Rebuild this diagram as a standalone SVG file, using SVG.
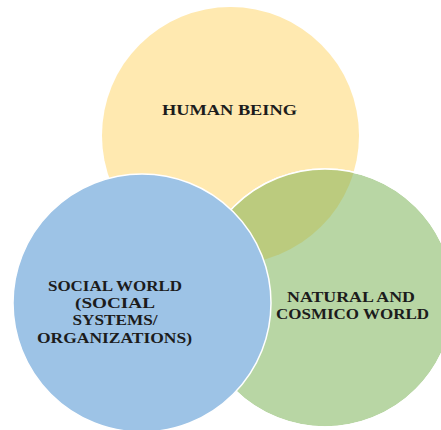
<svg xmlns="http://www.w3.org/2000/svg" width="441" height="430" viewBox="0 0 441 430">
<style>
.lbl{font-family:"Liberation Serif","Times New Roman",serif;font-weight:bold;font-size:15px;fill:#1c1c1c;text-anchor:middle}
</style>
<defs>
<clipPath id="greenClip"><circle cx="325" cy="298" r="129"/></clipPath>
</defs>
<rect width="441" height="430" fill="#ffffff"/>
<g id="human-being">
<circle cx="230.5" cy="135.5" r="128.5" fill="#FFE9B0"/>
</g>
<g id="natural-world">
<circle cx="325" cy="298" r="129" fill="#B8D6A4" stroke="#ffffff" stroke-width="1.5"/>
<circle cx="230.5" cy="135.5" r="128.5" fill="#BBCB7E" clip-path="url(#greenClip)"/>
<circle cx="325" cy="298" r="129" fill="none" stroke="#ffffff" stroke-width="1.5"/>
</g>
<g id="social-world">
<circle cx="142" cy="303" r="129" fill="#9DC3E6" stroke="#ffffff" stroke-width="1.5"/>
</g>
<g id="labels">
<text class="lbl" x="229.5" y="115" textLength="135" lengthAdjust="spacingAndGlyphs">HUMAN BEING</text>
<text class="lbl" x="115" y="291" textLength="134" lengthAdjust="spacingAndGlyphs">SOCIAL WORLD</text>
<text class="lbl" x="115" y="308" textLength="80" lengthAdjust="spacingAndGlyphs">(SOCIAL</text>
<text class="lbl" x="115" y="325" textLength="85" lengthAdjust="spacingAndGlyphs">SYSTEMS/</text>
<text class="lbl" x="114.5" y="343" textLength="155" lengthAdjust="spacingAndGlyphs">ORGANIZATIONS)</text>
<text class="lbl" x="351" y="302" textLength="128" lengthAdjust="spacingAndGlyphs">NATURAL AND</text>
<text class="lbl" x="352.5" y="319" textLength="153" lengthAdjust="spacingAndGlyphs">COSMICO WORLD</text>
</g>
</svg>
